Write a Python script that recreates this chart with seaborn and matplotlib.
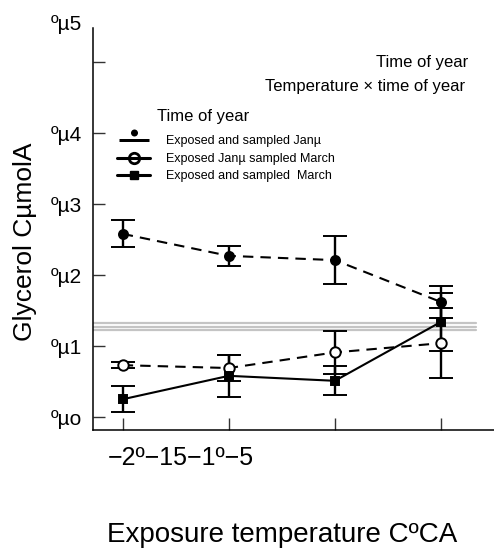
import numpy as np
import pandas as pd
import seaborn as sns
import matplotlib
matplotlib.use("Agg")
import matplotlib.pyplot as plt
from matplotlib.lines import Line2D
from matplotlib.path import Path
from matplotlib import font_manager

# ---------------- data ----------------
temperatures = ["-20", "-15", "-10", "-5"]
x_tick_labels = ["\u22122\u00ba", "\u221215", "\u22121\u00ba", "\u22125"]
y_tick_values = [0.0, 0.1, 0.2, 0.3, 0.4, 0.5]
y_tick_labels = ["\u00ba\u00b5o", "\u00ba\u00b51", "\u00ba\u00b52", "\u00ba\u00b53", "\u00ba\u00b54", "\u00ba\u00b55"]

series_names = ["Exposed and sampled Jan\u00b5",
                "Exposed Jan\u00b5 sampled March",
                "Exposed and sampled  March"]
jan_mean = [0.258, 0.227, 0.221, 0.162]
jan_err = [0.019, 0.014, 0.034, 0.022]
janmar_mean = [0.073, 0.069, 0.091, 0.104]
janmar_err = [0.0045, 0.018, 0.030, 0.049]
mar_mean = [0.025, 0.058, 0.051, 0.134]
mar_err = [0.018, 0.030, 0.0205, 0.041]
reference_levels = [0.1225, 0.1275, 0.1325]

# ---------------- style ----------------
sns.set_style("white")
names = {f.name for f in font_manager.fontManager.ttflist}
main_font = "Liberation Sans" if "Liberation Sans" in names else "DejaVu Sans"
narrow_font = "Liberation Sans Narrow" if "Liberation Sans Narrow" in names else main_font
plt.rcParams["font.family"] = [main_font, "DejaVu Sans"]
plt.rcParams["text.color"] = "black"
plt.rcParams["xtick.color"] = "black"
plt.rcParams["ytick.color"] = "black"
plt.rcParams["axes.labelcolor"] = "black"

W, H = 494, 549
fig = plt.figure(figsize=(W / 100, H / 100), dpi=100)
ax = fig.add_axes([93 / W, 1 - 430 / H, 1 - 93 / W, (430 - 28) / H])

pos = np.arange(len(temperatures))
frames = []
for name, m, e in [(series_names[0], jan_mean, jan_err),
                   (series_names[1], janmar_mean, janmar_err),
                   (series_names[2], mar_mean, mar_err)]:
    frames.append(pd.DataFrame({"pos": pos, "temp": temperatures, "mean": m,
                                "err": e, "series": name}))
df = pd.concat(frames, ignore_index=True)

styles = {
    series_names[0]: dict(ls=(0, (5, 3.4)), marker="o", mfc="black", ms=6.5),
    series_names[1]: dict(ls=(0, (5, 3.4)), marker="o", mfc="white", ms=7.5),
    series_names[2]: dict(ls="-", marker="s", mfc="black", ms=6),
}

# reference band
for lv in reference_levels:
    ax.axhline(lv, xmin=0, xmax=(476 - 93) / (W - 93), color="#c4c4c4", lw=1.6, zorder=1)

for name in series_names:
    sub = df[df["series"] == name]
    st = styles[name]
    sns.lineplot(data=sub, x="pos", y="mean", ax=ax, color="black", lw=1.5,
                 linestyle=st["ls"], legend=False, zorder=2)
    ax.errorbar(sub["pos"], sub["mean"], yerr=sub["err"], fmt=st["marker"],
                mfc=st["mfc"], mec="black", mew=1.4, ms=st["ms"], ecolor="black",
                elinewidth=1.7, capsize=8.6, capthick=2.0, zorder=3)

ax.set_xlim(-0.28, 3.5)
ax.set_ylim(-0.0183, 0.548)
ax.set_xticks(pos)
ax.set_xticklabels([""] * len(pos))
ax.set_yticks(y_tick_values)
ax.set_yticklabels(y_tick_labels[:-1] + [""], fontsize=15)
ax.tick_params(axis="both", direction="in", length=8.6, width=1.0, color="#333333",
               left=True, bottom=True)
ax.tick_params(axis="y", pad=8)
for s in ["top", "right"]:
    ax.spines[s].set_visible(False)
for s in ["left", "bottom"]:
    ax.spines[s].set_linewidth(1.1)
    ax.spines[s].set_color("black")
ax.set_xlabel("")
ax.set_ylabel("")

# labels
fig.text(82 / W, 1 - 25 / H, y_tick_labels[-1], ha="right", va="center", fontsize=15)
fig.text(108 / W, 1 - 465 / H, "".join(x_tick_labels), ha="left", va="baseline", fontsize=18)
fig.text(282 / W, 1 - 541.5 / H, "Exposure temperature C\u00baCA", ha="center",
         va="baseline", fontsize=20)
fig.text(37 / W, 1 - 242 / H, "Glycerol C\u00b5molA", rotation=90, ha="right",
         va="center", fontsize=19)

fig.text(468 / W, 1 - 63 / H, "Time of year", ha="right", va="center", fontsize=12)
fig.text(465 / W, 1 - 86.5 / H, "Temperature \u00d7 time of year", ha="right",
         va="center", fontsize=12)
fig.text(157 / W, 1 - 117 / H, "Time of year", ha="left", va="center", fontsize=12)

# legend
circ = Path.circle(center=(0, 0.75), radius=0.35)
bar = Path([(-1.5, -0.15), (1.5, -0.15), (1.5, 0.15), (-1.5, 0.15), (-1.5, -0.15)],
           [Path.MOVETO, Path.LINETO, Path.LINETO, Path.LINETO, Path.CLOSEPOLY])
dot_bar = Path.make_compound_path(circ, bar)
h1 = Line2D([], [], marker=dot_bar, ms=21.6, color="black", mfc="black", mec="black",
            mew=0, ls="none")
h2 = (Line2D([], [], marker="o", ms=7.5, mfc="white", mec="black", mew=2, ls="none"),
      Line2D([], [], color="black", lw=2.2))
h3 = Line2D([], [], color="black", lw=2.2, marker="s", ms=5.5, mfc="black", mec="black")
leg = fig.legend([h1, h2, h3], series_names, loc="upper left",
                 bbox_to_anchor=(111 / W, 1 - 129 / H), frameon=False, borderpad=0,
                 handlelength=2.6, handletextpad=1.3, labelspacing=0.45,
                 prop={"family": narrow_font, "size": 9})

fig.savefig("out.png", dpi=100)
